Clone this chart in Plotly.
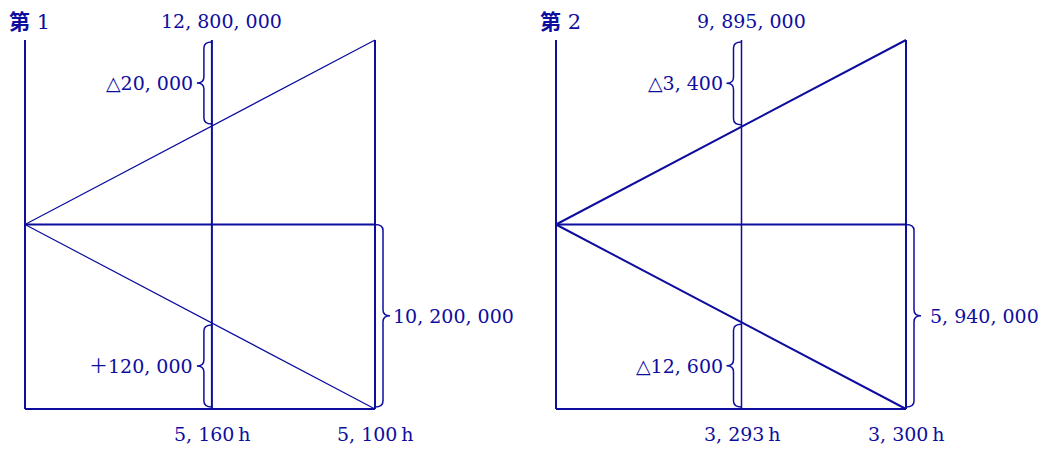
import plotly.graph_objects as go

# ---------------- data ----------------
panel_names = ["第", "第"]
panel_numbers = ["1", "2"]
budget_totals = [12800000, 9895000]
actual_hours = [5160, 3293]
standard_hours = [5100, 3300]
upper_variances = [-20000, -3400]
lower_variances = [120000, -12600]
fixed_costs = [10200000, 5940000]

# ---------------- styling / layout constants ----------------
COLOR = "#0d0d9e"
FONT = "DejaVu Serif, Noto Sans CJK JP, serif"
PAGE_OFFSET = 8                # default body margin of the html page
W, H = 1053 - PAGE_OFFSET, 450 - PAGE_OFFSET
X_PX = 350.0      # pixels per schematic x unit
Y_PX = 184.5      # pixels per schematic y unit
mid_frac = [0.534, 0.53]
diag_width = [1.2, 2.0]
mid_width = [2.0, 1.5]
right_gap_px = [2, 8]
panel_left_px = [25 - PAGE_OFFSET, 556 - PAGE_OFFSET]
title_left_px = [0, 531]
base_px = 409 - PAGE_OFFSET
top_label_px = 0.5
bottom_label_px = 434 - PAGE_OFFSET


def fmt(n):
    return f"{n:,}".replace(",", ", ")


def var(n):
    return ("△" if n < 0 else "＋") + fmt(abs(n))


def brace(x_end, y_bot, y_top, direction, xpx=X_PX, ypx=Y_PX):
    """curly brace path; direction -1 => tip on left, +1 => tip on right"""
    hook = 8 / xpx * direction
    tip = 7 / xpx * direction
    ry = 6 / ypx
    xs = x_end + hook
    xt = xs + tip
    ym = (y_bot + y_top) / 2
    return (f"M {x_end},{y_top} Q {xs},{y_top} {xs},{y_top - ry} "
            f"L {xs},{ym + ry} Q {xs},{ym} {xt},{ym} "
            f"Q {xs},{ym} {xs},{ym - ry} "
            f"L {xs},{y_bot + ry} Q {xs},{y_bot} {x_end},{y_bot}")


fig = go.Figure()
shapes = []
annotations = []
inset = 2 / Y_PX

for i in range(2):
    xa = "x" if i == 0 else "x2"
    m = mid_frac[i]
    common = dict(mode="lines", hoverinfo="skip", showlegend=False, xaxis=xa, yaxis="y")
    # frame
    fig.add_trace(go.Scatter(x=[0, 0, None, 0, 1, None, 1, 1, None, 0, 1],
                             y=[0, 2, None, 0, 0, None, 0, 2, None, 1, 1],
                             line=dict(color=COLOR, width=2), **common))
    # middle (actual hours) line
    fig.add_trace(go.Scatter(x=[m, m], y=[0, 2],
                             line=dict(color=COLOR, width=mid_width[i]), **common))
    # diagonals
    fig.add_trace(go.Scatter(x=[1, 0, 1], y=[2, 1, 0],
                             line=dict(color=COLOR, width=diag_width[i]), **common))

    up_bot, up_top = 1 + m + inset, 2 - inset
    lo_bot, lo_top = inset, 1 - m - inset
    r_bot, r_top = inset, 1
    for (xe, yb, yt, d) in [(m, up_bot, up_top, -1), (m, lo_bot, lo_top, -1), (1, r_bot, r_top, 1)]:
        shapes.append(dict(type="path", xref=xa, yref="y",
                           path=brace(xe, yb, yt, d),
                           line=dict(color=COLOR, width=1.5)))

    tf = dict(family=FONT, size=19, color=COLOR)
    # brace labels
    annotations.append(dict(x=m - 17 / X_PX, y=(up_bot + up_top) / 2, xref=xa, yref="y",
                            text=var(upper_variances[i]), showarrow=False,
                            xanchor="right", yanchor="middle", font=tf))
    annotations.append(dict(x=m - 17 / X_PX, y=(lo_bot + lo_top) / 2, xref=xa, yref="y",
                            text=var(lower_variances[i]), showarrow=False,
                            xanchor="right", yanchor="middle", font=tf))
    annotations.append(dict(x=1 + (14 + right_gap_px[i]) / X_PX, y=(r_bot + r_top) / 2,
                            xref=xa, yref="y",
                            text=fmt(fixed_costs[i]), showarrow=False,
                            xanchor="left", yanchor="middle", font=tf))
    # top budget label
    annotations.append(dict(x=m + 10 / X_PX, y=(base_px - top_label_px) / Y_PX, xref=xa, yref="y",
                            text=fmt(budget_totals[i]), showarrow=False, borderpad=0,
                            xanchor="center", yanchor="top", font=tf))
    # bottom hour labels
    annotations.append(dict(x=m, y=(base_px - bottom_label_px) / Y_PX, xref=xa, yref="y",
                            text=fmt(actual_hours[i]) + "\u2009h", showarrow=False,
                            xanchor="center", yanchor="middle", font=tf))
    annotations.append(dict(x=1, y=(base_px - bottom_label_px) / Y_PX, xref=xa, yref="y",
                            text=fmt(standard_hours[i]) + "\u2009h", showarrow=False,
                            xanchor="center", yanchor="middle", font=tf))
    # panel title
    annotations.append(dict(x=title_left_px[i] / W, y=1, xref="paper", yref="paper",
                            text=f"<b>{panel_names[i]}</b> {panel_numbers[i]}", showarrow=False,
                            borderpad=0, xanchor="left", yanchor="top",
                            font=dict(family=FONT, size=21, color=COLOR)))

half = W / 2
fig.update_layout(
    width=W, height=H, autosize=False,
    margin=dict(l=0, r=0, t=0, b=0),
    paper_bgcolor="white", plot_bgcolor="white",
    xaxis=dict(domain=[0, 0.5], range=[-panel_left_px[0] / X_PX, (half - panel_left_px[0]) / X_PX],
               visible=False, fixedrange=True),
    xaxis2=dict(domain=[0.5, 1], range=[(half - panel_left_px[1]) / X_PX, (W - panel_left_px[1]) / X_PX],
                visible=False, fixedrange=True, anchor="y"),
    yaxis=dict(range=[(base_px - H) / Y_PX, base_px / Y_PX], visible=False, fixedrange=True),
    shapes=shapes,
    annotations=annotations,
)

fig.write_html("out.html")
